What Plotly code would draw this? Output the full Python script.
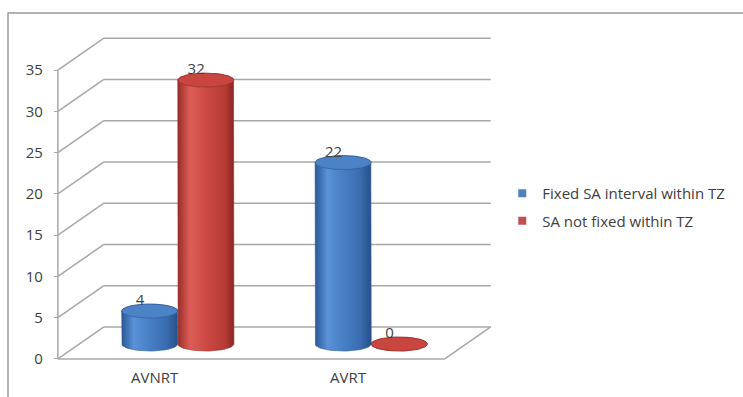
import numpy as np
import plotly.graph_objects as go

# ---- data ----
categories = ["AVNRT", "AVRT"]
fixed_sa = [4, 22]          # Fixed SA interval within TZ
not_fixed_sa = [32, 0]      # SA not fixed within TZ
series_names = ["Fixed SA interval within TZ", "SA not fixed within TZ"]
y_ticks = [0, 5, 10, 15, 20, 25, 30, 35]

# ---- geometry of the pseudo-3D frame (axis units) ----
X_RANGE = [-0.52, 1.76]
Y_RANGE = [-0.5, 40]
WALL_DX, WALL_DY = 0.238, 3.88      # offset of the back wall
BAR_DX, BAR_DY = 0.12, 1.8          # depth offset of the bar row
HALF_W = 0.145                      # cylinder radius (x units)
ELL_B = 0.85                        # ellipse half-height (y units)
GRID = "#a8a8a8"
FONT = "Open Sans"
TXT = "#404040"

MARGIN = dict(l=54, r=248, t=29, b=34, autoexpand=False)
W, H = 743, 397

blue = dict(scale=[[0, "#2b5896"], [0.22, "#5a92d8"], [0.45, "#4a82c8"],
                   [0.8, "#3a6db0"], [1, "#27508a"]],
            top="#4c82c6", edge="#2a5591", key="#4f81bd")
red = dict(scale=[[0, "#992d29"], [0.22, "#dc5e56"], [0.5, "#cd4943"],
                  [0.85, "#b63a35"], [1, "#8a2623"]],
           top="#c8463f", edge="#8e2926", key="#c0504d")
styles = [blue, red]

fig = go.Figure()


def cylinder(xc, value, st):
    base = BAR_DY
    top = BAR_DY + value
    t_low = np.linspace(np.pi, 2 * np.pi, 40)
    t_up = np.linspace(0, np.pi, 40)
    xs = np.concatenate([[xc - HALF_W, xc - HALF_W],
                         xc + HALF_W * np.cos(t_low),
                         [xc + HALF_W],
                         xc + HALF_W * np.cos(t_up)])
    ys = np.concatenate([[top, base],
                         base + ELL_B * np.sin(t_low),
                         [top],
                         top + ELL_B * np.sin(t_up)])
    fig.add_trace(go.Scatter(x=xs, y=ys, mode="lines", fill="toself",
                             fillgradient=dict(type="horizontal", colorscale=st["scale"]),
                             line=dict(width=0.6, color=st["edge"]),
                             hoverinfo="skip", showlegend=False))
    t = np.linspace(0, 2 * np.pi, 80)
    fig.add_trace(go.Scatter(x=xc + HALF_W * np.cos(t), y=top + ELL_B * np.sin(t),
                             mode="lines", fill="toself", fillcolor=st["top"],
                             line=dict(width=0.6, color=st["edge"]),
                             hoverinfo="skip", showlegend=False))
    # value label sitting on the cap
    fig.add_trace(go.Scatter(x=[xc - 0.05], y=[top + ELL_B - 0.6], mode="text",
                             text=[str(value)], textposition="top center",
                             textfont=dict(family=FONT, size=15, color=TXT),
                             hoverinfo="skip", showlegend=False, cliponaxis=False))


for i, cat in enumerate(categories):
    for s, vals in enumerate([fixed_sa, not_fixed_sa]):
        xc = i + BAR_DX + (s - 0.5) * 2 * HALF_W
        cylinder(xc, vals[i], styles[s])

# legend entries
for name, st in zip(series_names, styles):
    fig.add_trace(go.Scatter(x=[None], y=[None], mode="markers", name=name,
                             legendgroup=name,
                             marker=dict(symbol="square", size=8, color=st["key"])))

# ---- frame: back wall grid lines, side diagonals, floor ----
shapes = []
left, right = -0.5, 1.5
for v in y_ticks:
    shapes.append(dict(type="line", x0=left + WALL_DX, x1=right + WALL_DX,
                       y0=v + WALL_DY, y1=v + WALL_DY))
    shapes.append(dict(type="line", x0=left, x1=left + WALL_DX,
                       y0=v, y1=v + WALL_DY))
shapes.append(dict(type="line", x0=right, x1=right + WALL_DX, y0=0, y1=WALL_DY))
shapes.append(dict(type="line", x0=left, x1=right, y0=0, y1=0))
shapes.append(dict(type="line", x0=left, x1=left, y0=0, y1=y_ticks[-1]))
for sh in shapes:
    sh.update(xref="x", yref="y", layer="below", line=dict(color=GRID, width=1.5))

# outer chart border
plot_w = W - MARGIN["l"] - MARGIN["r"]
plot_h = H - MARGIN["t"] - MARGIN["b"]


def to_paper(px, py):
    return (px - MARGIN["l"]) / plot_w, (H - MARGIN["b"] - py) / plot_h


bx0, by0 = to_paper(8, 410)
bx1, by1 = to_paper(760, 13)
shapes.append(dict(type="rect", xref="paper", yref="paper", x0=bx0, x1=bx1,
                   y0=by0, y1=by1, line=dict(color="#9a9a9a", width=1.5), layer="below"))

fig.update_layout(
    width=W, height=H, margin=MARGIN,
    paper_bgcolor="white", plot_bgcolor="white",
    shapes=shapes,
    font=dict(family=FONT, color=TXT),
    xaxis=dict(range=X_RANGE, tickvals=list(range(len(categories))), ticktext=categories,
               showgrid=False, zeroline=False, showline=False, ticks="", automargin=False,
               tickfont=dict(size=15, color=TXT), ticklabelstandoff=4),
    yaxis=dict(range=Y_RANGE, tickvals=y_ticks, showgrid=False, zeroline=False,
               showline=False, ticks="outside", ticklen=4, tickcolor=GRID, automargin=False,
               anchor="free", position=0.02 / (X_RANGE[1] - X_RANGE[0]),
               tickfont=dict(size=15, color=TXT), ticklabelstandoff=8),
    legend=dict(xref="container", yref="container", x=0.676, y=1 - 207 / 397,
                xanchor="left", yanchor="middle", tracegroupgap=5,
                font=dict(family=FONT, size=15, color=TXT),
                bgcolor="rgba(0,0,0,0)"),
    showlegend=True,
)

fig.write_html("out.html", config={"displayModeBar": False})
